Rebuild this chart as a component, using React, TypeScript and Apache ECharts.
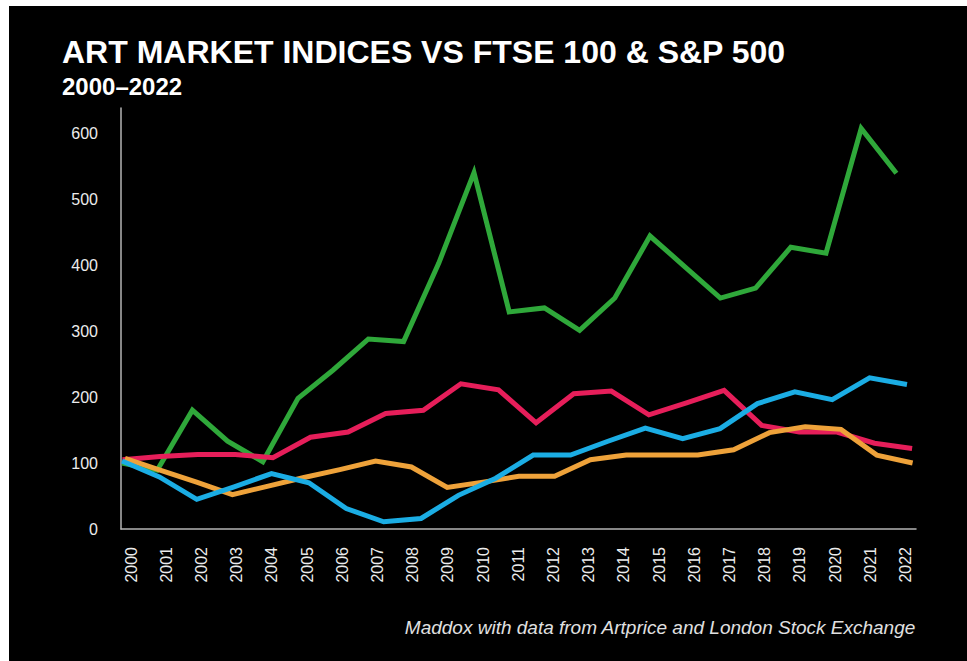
import React, { useEffect, useRef } from "react";
import * as echarts from "echarts";

// ---------- data ----------
const years = [
  2000, 2001, 2002, 2003, 2004, 2005, 2006, 2007, 2008, 2009, 2010, 2011,
  2012, 2013, 2014, 2015, 2016, 2017, 2018, 2019, 2020, 2021, 2022,
];
const yTickValues = [0, 100, 200, 300, 400, 500, 600];

// green line: 23 points
const greenValues = [
  100, 89, 180, 133, 102, 198, 241, 288, 284, 403, 540, 329, 335, 301, 350,
  444, 397, 350, 365, 427, 418, 607, 539,
];
// orange line: 23 points
const orangeValues = [
  107, 89, 71, 52, 65, 78, 90, 103, 94, 63, 71, 80, 80, 105, 112, 112, 112,
  120, 146, 155, 151, 112, 100,
];
// red line: 22 points
const redValues = [
  105, 110, 113, 113, 108, 139, 147, 175, 180, 220, 211, 161, 205, 209, 173,
  191, 210, 157, 147, 147, 130, 122,
];
// blue line: 22 points
const blueValues = [
  103, 79, 45, 64, 84, 70, 31, 11, 16, 51, 77, 112, 112, 133, 153, 137, 152,
  190, 208, 196, 229, 219,
];

// ---------- layout ----------
const PAGE_W = 967;
const PAGE_H = 661;
const BOX_X = 9;
const BOX_Y = 6;
const GRID_X0 = 121; // page coords
const GRID_X1 = 916;
const GRID_Y0 = 108;
const GRID_Y1 = 529;
const Y_MAX = 638;

// each line in the reference sits on its own horizontal spacing
function range(firstPx: number, stepPx: number) {
  return {
    min: years[0] - (firstPx - GRID_X0) / stepPx,
    max: years[0] + (GRID_X1 - firstPx) / stepPx,
  };
}
const labelRange = range(131, 35.2);
const greenRange = range(122, 35.2);
const orangeRange = range(125, 35.8);
const redRange = range(122.5, 37.6);
const blueRange = range(122, 37.38);

const FONT = "'Liberation Sans', Arial, Helvetica, sans-serif";

const pairs = (vals: number[]) => vals.map((v, i) => [years[i], v]);

export default function App() {
  const ref = useRef<HTMLDivElement>(null);

  useEffect(() => {
    if (!ref.current) return;
    const chart = echarts.init(ref.current, undefined, { renderer: "svg" });
    const hiddenX = (r: { min: number; max: number }) => ({
      type: "value" as const,
      gridIndex: 0,
      min: r.min,
      max: r.max,
      show: false,
      splitLine: { show: false },
    });
    const lineSeries = (
      name: string,
      vals: number[],
      xAxisIndex: number,
      color: string
    ) => ({
      type: "line" as const,
      name,
      xAxisIndex,
      data: pairs(vals),
      symbol: "none",
      lineStyle: { color, width: 5, join: "miter" as const, cap: "butt" as const },
      itemStyle: { color },
      silent: true,
    });

    chart.setOption({
      animation: false,
      backgroundColor: "#000000",
      textStyle: { fontFamily: FONT },
      graphic: [
        {
          type: "text",
          left: 62 - BOX_X,
          top: 36 - BOX_Y,
          style: {
            text: "ART MARKET INDICES VS FTSE 100 & S&P 500",
            fill: "#ffffff",
            font: `bold 32px ${FONT}`,
          },
        },
        {
          type: "text",
          left: 62 - BOX_X,
          top: 74 - BOX_Y,
          style: {
            text: "2000\u20132022",
            fill: "#ffffff",
            font: `bold 24px ${FONT}`,
          },
        },
        {
          type: "text",
          right: PAGE_W - 916,
          top: 618 - BOX_Y,
          style: {
            text: "Maddox with data from Artprice and London Stock Exchange",
            fill: "#e0e0e0",
            font: `italic 19px ${FONT}`,
          },
        },
      ],
      grid: {
        left: GRID_X0 - BOX_X,
        top: GRID_Y0 - BOX_Y,
        width: GRID_X1 - GRID_X0,
        height: GRID_Y1 - GRID_Y0,
        containLabel: false,
      },
      xAxis: [
        {
          type: "value",
          gridIndex: 0,
          min: labelRange.min,
          max: labelRange.max,
          axisLine: { show: true, lineStyle: { color: "#b4b4b4", width: 1.5 } },
          axisTick: { show: false },
          splitLine: { show: false },
          axisLabel: {
            customValues: years,
            rotate: 90,
            margin: 18,
            color: "#ececec",
            fontSize: 16,
            fontFamily: FONT,
            formatter: (v: number) => String(v),
          },
        },
        hiddenX(greenRange),
        hiddenX(orangeRange),
        hiddenX(redRange),
        hiddenX(blueRange),
      ],
      yAxis: {
        type: "value",
        min: 0,
        max: Y_MAX,
        interval: 100,
        axisLine: { show: true, lineStyle: { color: "#b4b4b4", width: 1.5 } },
        axisTick: { show: false },
        splitLine: { show: false },
        axisLabel: {
          customValues: yTickValues,
          margin: 23,
          color: "#ececec",
          fontSize: 16,
          fontFamily: FONT,
          formatter: (v: number) => String(v),
        },
      },
      series: [
        lineSeries("Green index", greenValues, 1, "#2fa83a"),
        lineSeries("Red index", redValues, 3, "#e61e5a"),
        lineSeries("Orange index", orangeValues, 2, "#eea23a"),
        lineSeries("Blue index", blueValues, 4, "#1badE4"),
      ],
    });
    return () => chart.dispose();
  }, []);

  return (
    <div
      style={{
        position: "fixed",
        left: 0,
        top: 0,
        width: PAGE_W,
        height: PAGE_H,
        background: "#ffffff",
      }}
    >
      <div
        ref={ref}
        style={{
          position: "absolute",
          left: BOX_X,
          top: BOX_Y,
          width: PAGE_W - BOX_X,
          height: PAGE_H - BOX_Y,
        }}
      />
    </div>
  );
}
